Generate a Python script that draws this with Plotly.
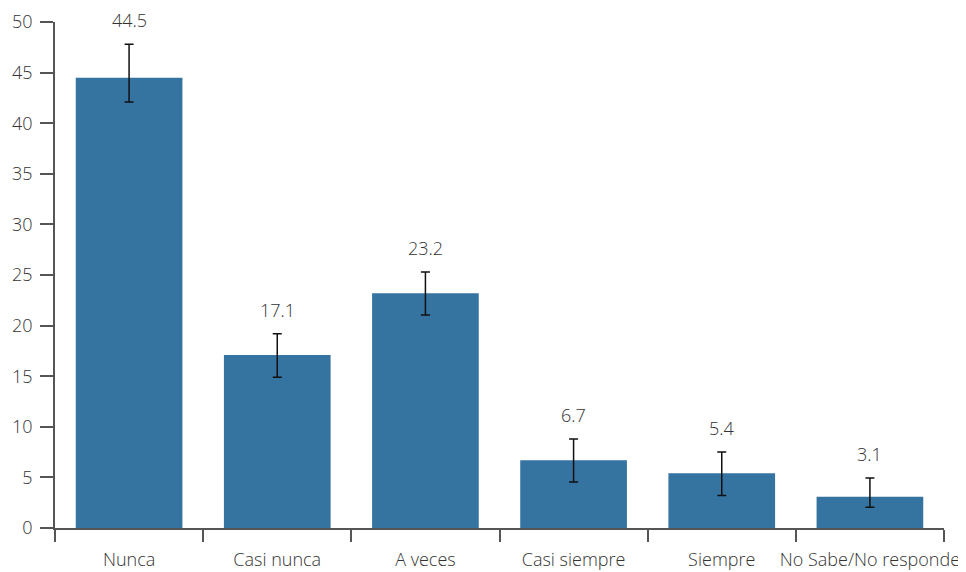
import plotly.graph_objects as go

categories = ["Nunca", "Casi nunca", "A veces", "Casi siempre", "Siempre", "No Sabe/No responde"]
values = [44.5, 17.1, 23.2, 6.7, 5.4, 3.1]
err_plus = [3.3, 2.1, 2.1, 2.1, 2.1, 1.85]
err_minus = [2.4, 2.2, 2.15, 2.15, 2.2, 1.05]
y_ticks = [0, 5, 10, 15, 20, 25, 30, 35, 40, 45, 50]

bar_color = "#3573a0"
axis_color = "#555555"
text_color = "#333333"
font_family = "Open Sans, Noto Sans, sans-serif"
font_weight = 300

fig = go.Figure()
fig.add_trace(go.Bar(
    x=categories,
    y=values,
    marker=dict(color=bar_color, line=dict(width=0)),
    width=0.72,
    error_y=dict(type="data", symmetric=False, array=err_plus, arrayminus=err_minus,
                 color="#111111", thickness=1.5, width=4.5),
    hoverinfo="skip",
))

for c, v, ep in zip(categories, values, err_plus):
    fig.add_annotation(x=c, y=v + ep, text=f"{v}", showarrow=False,
                       yanchor="bottom", yshift=10,
                       font=dict(family=font_family, size=18, color=text_color, weight=font_weight))

# page body has an 8px margin, so the figure is offset accordingly
fig.update_layout(
    width=958, height=564,
    margin=dict(l=47, r=22, t=14, b=44),
    plot_bgcolor="white", paper_bgcolor="white",
    showlegend=False,
    font=dict(family=font_family, size=18, color=text_color, weight=font_weight),
    bargap=0.28,
)
fig.update_xaxes(
    type="category", automargin=False, tickangle=0,
    showline=True, linecolor=axis_color, linewidth=1.5,
    ticks="outside", tickson="boundaries", ticklen=12, tickcolor=axis_color, tickwidth=1.5,
    ticklabelstandoff=15,
    showgrid=False, zeroline=False,
    tickfont=dict(family=font_family, size=18, color=text_color, weight=font_weight),
)
fig.update_yaxes(
    range=[0, 50], tickvals=y_ticks, automargin=False,
    showline=True, linecolor=axis_color, linewidth=1.5,
    ticks="outside", ticklen=13, tickcolor=axis_color, tickwidth=1.5,
    ticklabelstandoff=4,
    showgrid=False, zeroline=False,
    tickfont=dict(family=font_family, size=18, color=text_color, weight=font_weight),
)

fig.write_html("out.html")
